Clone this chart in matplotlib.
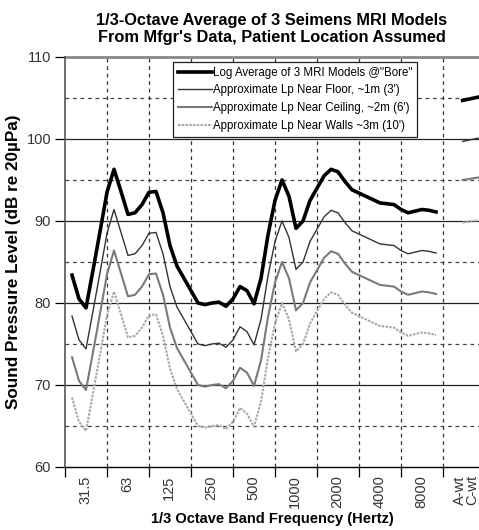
# plot.py
# 1/3-octave average of 3 Seimens MRI models, bore level and estimated room levels

import numpy as np
import matplotlib
matplotlib.use("Agg")
import matplotlib.pyplot as plt

plt.rcParams['font.family'] = ['Liberation Sans', 'DejaVu Sans']

# octave labels on the x axis (each octave holds 3 one-third bands)
octave_labels = ["31.5", "63", "125", "250", "500", "1000", "2000", "4000", "8000"]
wt_label = "A-wt\nC-wt"

# levels read every half 1/3-octave band, from 25 Hz to 10 kHz (53 points)
bore = [83.4, 80.5, 79.4, 84.0, 88.7, 93.5, 96.3, 93.6, 90.8, 91.0,
        92.0, 93.5, 93.6, 91.0, 87.0, 84.5, 83.0, 81.5, 80.0, 79.8,
        80.0, 80.1, 79.6, 80.5, 82.0, 81.5, 79.9, 83.0, 88.3, 92.5,
        95.0, 93.0, 89.1, 90.0, 92.5, 94.0, 95.5, 96.3, 96.0, 94.8,
        93.8, 93.4, 93.0, 92.6, 92.2, 92.1, 92.0, 91.4, 91.0, 91.2,
        91.4, 91.3, 91.1]
floor = [78.4, 75.5, 74.4, 79.0, 83.7, 88.5, 91.4, 88.6, 85.8, 86.0,
         87.0, 88.5, 88.6, 86.0, 82.0, 79.5, 78.0, 76.5, 75.0, 74.8,
         75.0, 75.1, 74.6, 75.5, 77.1, 76.5, 74.9, 78.0, 83.3, 87.5,
         90.0, 88.0, 84.1, 85.0, 87.5, 89.0, 90.5, 91.3, 91.0, 89.8,
         88.8, 88.4, 88.0, 87.6, 87.2, 87.1, 87.0, 86.4, 86.0, 86.2,
         86.4, 86.3, 86.1]
ceiling = [73.4, 70.5, 69.4, 74.0, 78.7, 83.5, 86.4, 83.6, 80.8, 81.0,
           82.0, 83.5, 83.6, 81.0, 77.0, 74.5, 73.0, 71.5, 70.0, 69.8,
           70.0, 70.1, 69.6, 70.5, 72.1, 71.5, 69.9, 73.0, 78.3, 82.5,
           85.0, 83.0, 79.1, 80.0, 82.5, 84.0, 85.5, 86.3, 86.0, 84.8,
           83.8, 83.4, 83.0, 82.6, 82.2, 82.1, 82.0, 81.4, 81.0, 81.2,
           81.4, 81.3, 81.1]
walls = [68.5, 65.5, 64.4, 69.0, 73.7, 78.5, 81.4, 78.6, 75.8, 76.0,
         77.0, 78.5, 78.6, 76.0, 72.0, 69.5, 68.0, 66.5, 65.0, 64.8,
         65.0, 65.1, 64.6, 65.5, 67.2, 66.5, 64.9, 68.0, 73.3, 77.5,
         80.0, 78.0, 74.1, 75.0, 77.5, 79.0, 80.5, 81.3, 81.0, 79.8,
         78.8, 78.4, 78.0, 77.6, 77.2, 77.1, 77.0, 76.4, 76.0, 76.2,
         76.4, 76.3, 76.1]

# A-weighted and C-weighted overall levels
bore_wt = [104.7, 105.1]
floor_wt = [99.7, 100.1]
ceiling_wt = [95.0, 95.3]
walls_wt = [89.8, 90.1]

names = ['Log Average of 3 MRI Models @"Bore"',
         "Approximate Lp Near Floor, ~1m (3')",
         "Approximate Lp Near Ceiling, ~2m (6')",
         "Approximate Lp Near Walls ~3m (10')"]

# x in 1/3-band units: band j sits at j + 0.5
x = 0.5 + 0.5 * np.arange(len(bore))
x_wt = [28.4, 29.5]

fig = plt.figure(figsize=(4.79, 5.30), dpi=100)
ax = fig.add_axes([0.1357, 0.1189, 0.8643, 0.7736])

# grid: solid at the tens, dashed at the fives
for yv in [70, 80, 90, 100]:
    ax.axhline(yv, color='#222222', lw=0.9, zorder=1)
for yv in [65, 75, 85, 95, 105]:
    ax.axhline(yv, color='#444444', lw=0.9, ls=(0, (3, 3)), zorder=1)
for xv in range(3, 30, 3):
    ax.axvline(xv, color='#333333', lw=0.9, ls=(0, (3, 3)), zorder=1)
ax.axhline(110, color='#888888', lw=2.0, zorder=1, clip_on=False)

styles = [dict(color='black', lw=2.6),
          dict(color='#333333', lw=1.0),
          dict(color='#7a7a7a', lw=1.5),
          dict(color='#a8a8a8', lw=1.5, ls=(0, (1.2, 0.6)))]
series = [bore, floor, ceiling, walls]
series_wt = [bore_wt, floor_wt, ceiling_wt, walls_wt]
for vals, wt, st, nm in zip(series, series_wt, styles, names):
    ax.plot(x, vals, label=nm, zorder=3, solid_joinstyle='round', **st)
    ax.plot(x_wt, wt, zorder=3, **st)

ax.set_xlim(0, 29.57)
ax.set_ylim(60, 110)
ax.set_yticks([60, 70, 80, 90, 100, 110])
ax.tick_params(axis='y', labelsize=10.5, length=7, width=0.9, pad=3, labelcolor='#333333')

ax.set_xticks(list(range(0, 30, 3)))
ax.set_xticklabels([])
ax.set_xticks([1.45 + 3 * i for i in range(len(octave_labels))] + [28.65], minor=True)
ax.set_xticklabels(octave_labels + [wt_label], minor=True, rotation=90,
                   fontsize=10.5, color='#333333', linespacing=0.85)
ax.tick_params(axis='x', which='major', length=7, width=0.9)
ax.tick_params(axis='x', which='minor', length=0, pad=6)

for s in ['top', 'right']:
    ax.spines[s].set_visible(False)
ax.spines['left'].set_color('#555555')
ax.spines['left'].set_linewidth(1.2)
ax.spines['bottom'].set_linewidth(1.0)

ax.set_title("1/3-Octave Average of 3 Seimens MRI Models\nFrom Mfgr's Data, Patient Location Assumed",
             fontsize=11.8, fontweight='bold', pad=11, linespacing=1.15)
ax.set_xlabel("1/3 Octave Band Frequency (Hertz)", fontsize=10.5, fontweight='bold', labelpad=3)
ax.set_ylabel("Sound Pressure Level (dB re 20\u00b5Pa)", fontsize=12.3, fontweight='bold', labelpad=4)

leg = ax.legend(loc='upper left', bbox_to_anchor=(173 / 479, 1 - 62 / 530),
                bbox_transform=fig.transFigure, fontsize=8.3, frameon=True,
                fancybox=False, framealpha=1, edgecolor='#222222',
                handlelength=3.0, handletextpad=0.1, borderpad=0.4,
                labelspacing=0.5, borderaxespad=0)
leg.get_frame().set_linewidth(0.9)
leg.set_zorder(5)

fig.savefig("out.png", dpi=100)
